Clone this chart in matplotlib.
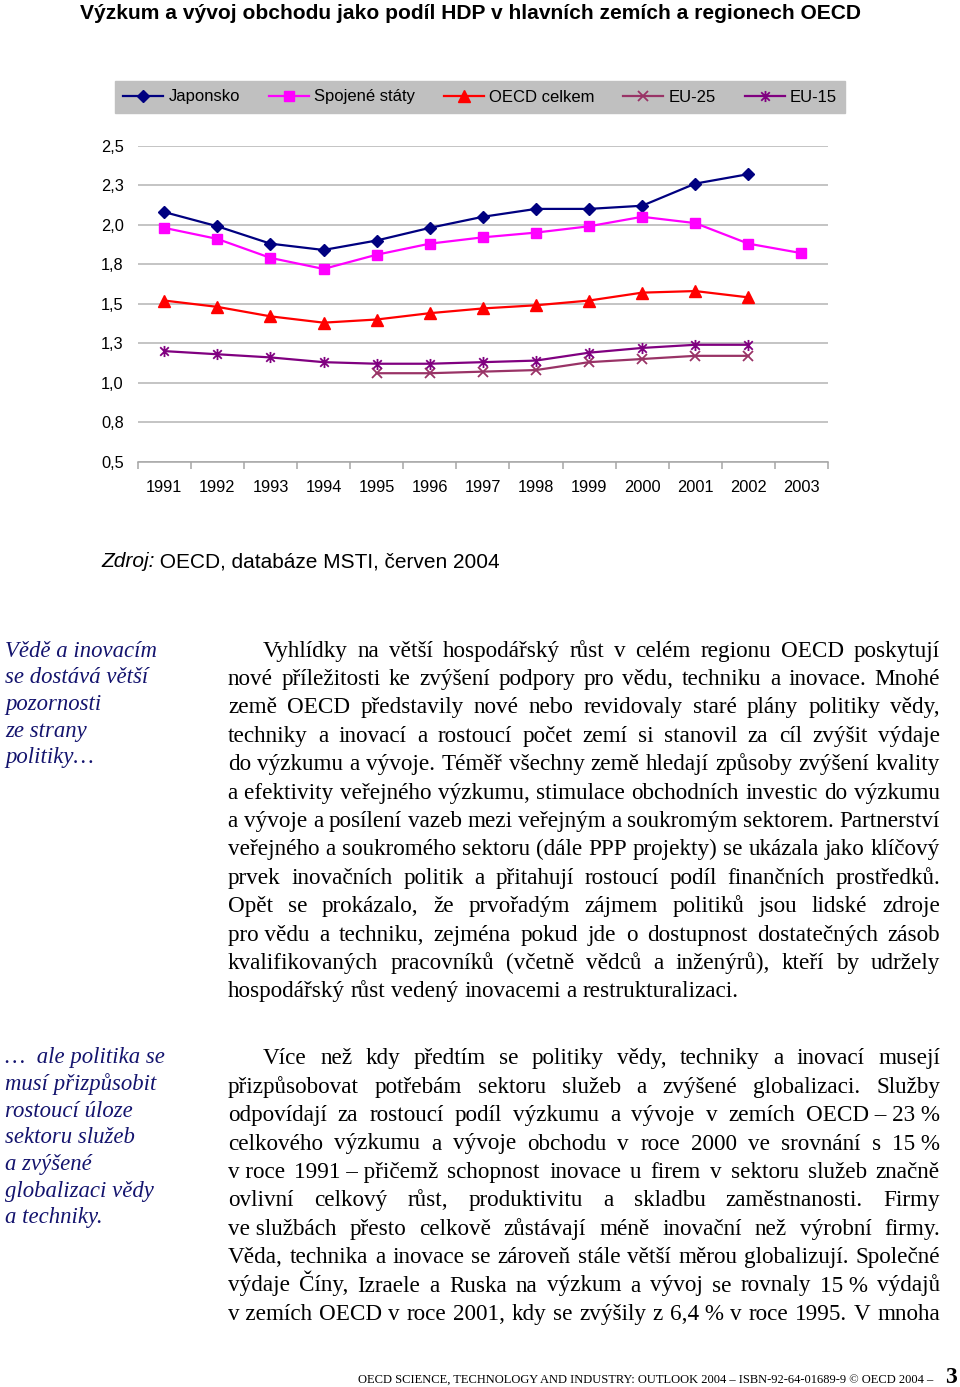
import numpy as np
import matplotlib.pyplot as plt
from matplotlib.path import Path

# --- data ---
years = ['1991', '1992', '1993', '1994', '1995', '1996', '1997',
         '1998', '1999', '2000', '2001', '2002', '2003']
nan = np.nan
japonsko = [2.08, 1.99, 1.88, 1.84, 1.90, 1.98, 2.05, 2.10, 2.10, 2.12, 2.26, 2.32, nan]
usa = [1.98, 1.91, 1.79, 1.72, 1.81, 1.88, 1.92, 1.95, 1.99, 2.05, 2.01, 1.88, 1.82]
oecd = [1.52, 1.48, 1.42, 1.38, 1.40, 1.44, 1.47, 1.49, 1.52, 1.57, 1.58, 1.54, nan]
eu25 = [nan, nan, nan, nan, 1.06, 1.06, 1.07, 1.08, 1.13, 1.15, 1.17, 1.17, nan]
eu15 = [1.20, 1.18, 1.16, 1.13, 1.12, 1.12, 1.13, 1.14, 1.19, 1.22, 1.24, 1.24, nan]
yticks = [0.5, 0.75, 1.0, 1.25, 1.5, 1.75, 2.0, 2.25, 2.5]
ylabels = ['0,5', '0,8', '1,0', '1,3', '1,5', '1,8', '2,0', '2,3', '2,5']

title = 'Výzkum a vývoj obchodu jako podíl HDP v hlavních zemích a regionech OECD'

side1 = ['Vědě a inovacím', 'se dostává větší', 'pozornosti', 'ze strany', 'politiky…']
side2 = ['…  ale politika se', 'musí přizpůsobit', 'rostoucí úloze', 'sektoru služeb',
         'a zvýšené', 'globalizaci vědy', 'a techniky.']

nb = '\u00a0'
para1 = [
    'Vyhlídky na větší hospodářský růst v celém regionu OECD poskytují',
    'nové příležitosti ke zvýšení podpory pro vědu, techniku a inovace. Mnohé',
    'země OECD představily nové nebo revidovaly staré plány politiky vědy,',
    'techniky a inovací a rostoucí počet zemí si stanovil za cíl zvýšit výdaje',
    'do výzkumu a vývoje. Téměř všechny země hledají způsoby zvýšení kvality',
    'a' + nb + 'efektivity veřejného výzkumu, stimulace obchodních investic do výzkumu',
    'a' + nb + 'vývoje a posílení vazeb mezi veřejným a soukromým sektorem. Partnerství',
    'veřejného a soukromého sektoru (dále PPP projekty) se ukázala jako klíčový',
    'prvek inovačních politik a přitahují rostoucí podíl finančních prostředků.',
    'Opět se prokázalo, že prvořadým zájmem politiků jsou lidské zdroje',
    'pro' + nb + 'vědu a techniku, zejména pokud jde o dostupnost dostatečných zásob',
    'kvalifikovaných pracovníků (včetně vědců a inženýrů), kteří by udržely',
    'hospodářský růst vedený inovacemi a restrukturalizaci.',
]
para2 = [
    'Více než kdy předtím se politiky vědy, techniky a inovací musejí',
    'přizpůsobovat potřebám sektoru služeb a zvýšené globalizaci. Služby',
    'odpovídají za rostoucí podíl výzkumu a vývoje v zemích OECD' + nb + '–' + nb + '23' + nb + '%',
    'celkového výzkumu a vývoje obchodu v roce 2000 ve srovnání s 15' + nb + '%',
    'v' + nb + 'roce 1991' + nb + '–' + nb + 'přičemž schopnost inovace u firem v sektoru služeb značně',
    'ovlivní celkový růst, produktivitu a skladbu zaměstnanosti. Firmy',
    've' + nb + 'službách přesto celkově zůstávají méně inovační než výrobní firmy.',
    'Věda, technika a inovace se zároveň stále větší měrou globalizují. Společné',
    'výdaje Číny, Izraele a Ruska na výzkum a vývoj se rovnaly 15' + nb + '% výdajů',
    'v' + nb + 'zemích OECD v roce 2001, kdy se zvýšily z 6,4' + nb + '% v roce 1995. V mnoha',
]
footer = 'OECD SCIENCE, TECHNOLOGY AND INDUSTRY: OUTLOOK 2004 – ISBN-92-64-01689-9 © OECD 2004 –'

W, H = 960, 1387
fig = plt.figure(figsize=(9.6, 13.87), dpi=100)
renderer = fig.canvas.get_renderer()


def fx(x):
    return x / W


def fy(y):
    return 1 - y / H


def measure(s, **kw):
    t = fig.text(0, 0, s, **kw)
    w = t.get_window_extent(renderer).width
    t.remove()
    return w


def fit_size(s, target, **kw):
    return 10 * target / measure(s, fontsize=10, **kw)


# --- chart ---
ax = fig.add_axes([fx(137.7), fy(461.7), fx(828) - fx(137.7), fy(145.7) - fy(461.7)])
x = np.arange(len(years))
star6 = Path([(-1, -1), (1, 1), (-1, 1), (1, -1), (0, -1.3), (0, 1.3)],
             [Path.MOVETO, Path.LINETO, Path.MOVETO, Path.LINETO, Path.MOVETO, Path.LINETO])

ax.plot(x, japonsko, color='#000080', lw=1.6, marker='D', ms=6, label='Japonsko')
ax.plot(x, usa, color='#ff00ff', lw=1.6, marker='s', ms=6.5, label='Spojené státy')
ax.plot(x, oecd, color='#ff0000', lw=1.6, marker='^', ms=8, label='OECD celkem')
ax.plot(x, eu25, color='#993366', lw=1.6, marker='x', ms=7, mew=1.3, label='EU-25')
ax.plot(x, eu15, color='#800080', lw=1.6, marker=star6, ms=8, mew=1.3, label='EU-15')

ax.set_xlim(-0.5, len(years) - 0.5)
ax.set_ylim(0.5, 2.5)
ax.set_yticks(yticks)
ax.set_yticklabels(ylabels)
ax.set_xticks(x)
ax.set_xticklabels(years)
ax.set_xticks(np.arange(-0.5, len(years), 1), minor=True)
ax.yaxis.grid(True, color='#b4b4b4', lw=1.1)
ax.set_axisbelow(True)
for s in ['top', 'left', 'right']:
    ax.spines[s].set_visible(False)
ax.spines['bottom'].set_color('#a6a6a6')
ax.spines['bottom'].set_linewidth(1.1)
ax.tick_params(axis='y', length=0, pad=10, labelsize=11.8)
ax.tick_params(axis='x', which='major', length=0, pad=13, labelsize=11.8)
ax.tick_params(axis='x', which='minor', length=5, color='#a6a6a6', width=1.1)
for lab in ax.get_xticklabels() + ax.get_yticklabels():
    lab.set_fontfamily('Liberation Sans')

leg = ax.legend(loc='center', bbox_to_anchor=(fx(115), fy(113), fx(845) - fx(115), fy(81) - fy(113)),
                bbox_transform=fig.transFigure, mode='expand', ncol=5, fancybox=False,
                facecolor='#c0c0c0', edgecolor='#c0c0c0', framealpha=1, handlelength=2.4,
                handletextpad=0.3, borderaxespad=0, borderpad=0.5,
                prop={'family': 'Liberation Sans', 'size': 12})

# --- title and source ---
tsize = fit_size(title, 781, family='Liberation Sans', weight='bold')
fig.text(fx(80), fy(19), title, family='Liberation Sans', weight='bold', fontsize=tsize,
         ha='left', va='baseline')
zsize = fit_size('Zdroj: OECD, databáze MSTI, červen 2004', 400, family='Liberation Sans')
zkw = dict(family='Liberation Sans', fontsize=zsize)
fig.text(fx(101), fy(567), 'Zdroj:', style='italic', ha='left', va='baseline', **zkw)
zw = measure('Zdroj:', style='italic', **zkw)
fig.text(fx(101 + zw), fy(567), ' OECD, databáze MSTI, červen 2004', ha='left', va='baseline', **zkw)

# --- sidebars ---
skw = dict(family='Liberation Serif', style='italic', color='#14146e')
ssize = fit_size('musí přizpůsobit', 152, **skw)
for i, line in enumerate(side1):
    fig.text(fx(5), fy(656.7 + 26.6 * i), line, fontsize=ssize, ha='left', va='baseline', **skw)
for i, line in enumerate(side2):
    fig.text(fx(5), fy(1063.5 + 26.6 * i), line, fontsize=ssize, ha='left', va='baseline', **skw)

# --- body text, justified ---
bkw = dict(family='Liberation Serif', color='black')
bsize = fit_size(para1[-1], 509, **bkw)
bkw['fontsize'] = bsize
space = measure('n n', **bkw) - measure('nn', **bkw)
X0, X1, INDENT = 228, 940, 35


def draw_par(lines, y0, last_justified):
    for i, line in enumerate(lines):
        y = y0 + 28.4 * i
        words = line.split(' ')
        widths = [measure(w, **bkw) for w in words]
        start = X0 + (INDENT if i == 0 else 0)
        last = (i == len(lines) - 1) and not last_justified
        if last or len(words) == 1:
            gap = space
        else:
            gap = (X1 - start - sum(widths)) / (len(words) - 1)
        xx = start
        for w, wd in zip(words, widths):
            fig.text(fx(xx), fy(y), w.replace(nb, ' '), ha='left', va='baseline', **bkw)
            xx += wd + gap


draw_par(para1, 656.6, False)
draw_par(para2, 1064.3, True)

# --- footer ---
fkw = dict(family='Liberation Serif')
fsize = fit_size(footer, 580, **fkw)
fig.text(fx(358), fy(1383), footer, fontsize=fsize, ha='left', va='baseline', **fkw)
fig.text(fx(945), fy(1383), '3', fontsize=17, weight='bold', ha='left', va='baseline', **fkw)

fig.savefig('out.png', dpi=100)
